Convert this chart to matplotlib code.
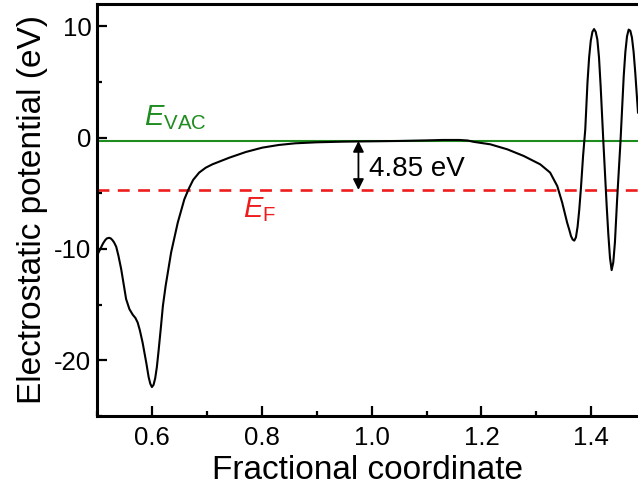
import matplotlib
matplotlib.use("Agg")
import matplotlib.pyplot as plt
from matplotlib.ticker import MultipleLocator

plt.rcParams['font.family'] = ['Liberation Sans', 'DejaVu Sans']
plt.rcParams['mathtext.fontset'] = 'custom'
plt.rcParams['mathtext.rm'] = 'Liberation Sans'
plt.rcParams['mathtext.it'] = 'Liberation Sans:italic'
plt.rcParams['axes.unicode_minus'] = False

# potential profile
coord = [0.502, 0.507, 0.511, 0.515, 0.518, 0.522, 0.525, 0.528, 0.531, 0.535,
         0.539, 0.544, 0.549, 0.553, 0.559, 0.565, 0.570, 0.574, 0.578, 0.583,
         0.590, 0.594, 0.597, 0.600, 0.603, 0.606, 0.609, 0.612, 0.616, 0.620,
         0.625, 0.635, 0.647, 0.659, 0.667, 0.675, 0.686, 0.698, 0.710, 0.741,
         0.771, 0.801, 0.831, 0.861, 0.900, 0.950, 1.000, 1.050, 1.100, 1.130,
         1.160, 1.175, 1.186, 1.216, 1.247, 1.277, 1.307, 1.325, 1.338, 1.347,
         1.356, 1.360, 1.363, 1.366, 1.369, 1.372, 1.375, 1.378, 1.381, 1.385,
         1.389, 1.393, 1.396, 1.399, 1.402, 1.405, 1.408, 1.411, 1.414, 1.417,
         1.422, 1.428, 1.431, 1.434, 1.437, 1.440, 1.443, 1.447, 1.453, 1.459,
         1.462, 1.465, 1.468, 1.471, 1.474, 1.477, 1.480, 1.485]
potential = [-10.4, -9.9, -9.5, -9.2, -9.05, -9.0, -9.05, -9.2, -9.4, -9.8,
             -10.6, -11.8, -13.3, -14.5, -15.4, -15.9, -16.2, -16.6, -17.3, -18.4,
             -20.3, -21.5, -22.1, -22.4, -22.2, -21.6, -20.6, -19.2, -17.2, -15.1,
             -13.3, -10.3, -7.64, -5.54, -4.6, -3.8, -3.14, -2.7, -2.40, -1.80,
             -1.29, -0.90, -0.66, -0.51, -0.42, -0.36, -0.33, -0.30, -0.25, -0.21,
             -0.21, -0.26, -0.38, -0.60, -1.05, -1.65, -2.40, -3.14, -4.35, -5.84,
             -7.64, -8.3, -8.84, -9.15, -9.25, -8.95, -8.0, -6.5, -4.6, -1.65,
             0.75, 4.94, 7.2, 8.7, 9.5, 9.75, 9.5, 8.8, 7.2, 4.6,
             -0.45, -6.15, -8.7, -10.8, -11.9, -11.2, -9.4, -5.54, -0.45, 5.53,
             7.7, 9.1, 9.7, 9.6, 8.98, 7.7, 5.84, 2.25]

e_vac = -0.3
e_f = -4.7
gap_label = "4.85 eV"

fig = plt.figure(figsize=(6.38, 4.9), dpi=100)
ax = fig.add_axes([97 / 638, 74 / 490, 541 / 638, 412 / 490])

ax.axhline(e_vac, color='#1e8c1e', lw=1.5, zorder=1)
ax.axhline(e_f, color='#ee1c1c', lw=1.9, ls=(0, (4.5, 3.2)), zorder=1)
ax.plot(coord, potential, color='black', lw=1.5, zorder=2)

ax.annotate('', xy=(0.976, e_f), xytext=(0.976, e_vac),
            arrowprops=dict(arrowstyle='<|-|>', color='black', lw=1.3,
                            mutation_scale=16, shrinkA=0, shrinkB=0))
ax.text(0.995, -3.45, gap_label, fontsize=20, va='baseline', ha='left')
ax.text(0.585, 1.1, r'$E_{\mathrm{VAC}}$', fontsize=21, color='#1e8c1e',
        va='baseline', ha='left')
ax.text(0.765, -7.19, r'$E_{\mathrm{F}}$', fontsize=21, color='#ee1c1c',
        va='baseline', ha='left')

ax.set_xlim(0.5, 1.485)
ax.set_ylim(-25, 12)
ax.xaxis.set_major_locator(MultipleLocator(0.2))
ax.xaxis.set_minor_locator(MultipleLocator(0.1))
ax.yaxis.set_major_locator(MultipleLocator(10))
ax.yaxis.set_minor_locator(MultipleLocator(5))
ax.xaxis.set_major_formatter(matplotlib.ticker.FormatStrFormatter('%.1f'))
ax.tick_params(which='both', direction='in', top=False, right=False,
               labelsize=18.5)
ax.tick_params(which='major', length=7, width=1.6)
ax.tick_params(which='minor', length=3.5, width=1.6)
ax.tick_params(axis='x', pad=7)
ax.tick_params(axis='y', pad=4)

for side in ['left', 'bottom', 'top']:
    ax.spines[side].set_linewidth(2.2)
ax.spines['right'].set_visible(False)

ax.set_xlabel('Fractional coordinate', fontsize=24, labelpad=4)
ax.set_ylabel('Electrostatic potential (eV)', fontsize=24)
ax.yaxis.set_label_coords(-0.09, 0.5)

fig.savefig('out.png', dpi=100)
